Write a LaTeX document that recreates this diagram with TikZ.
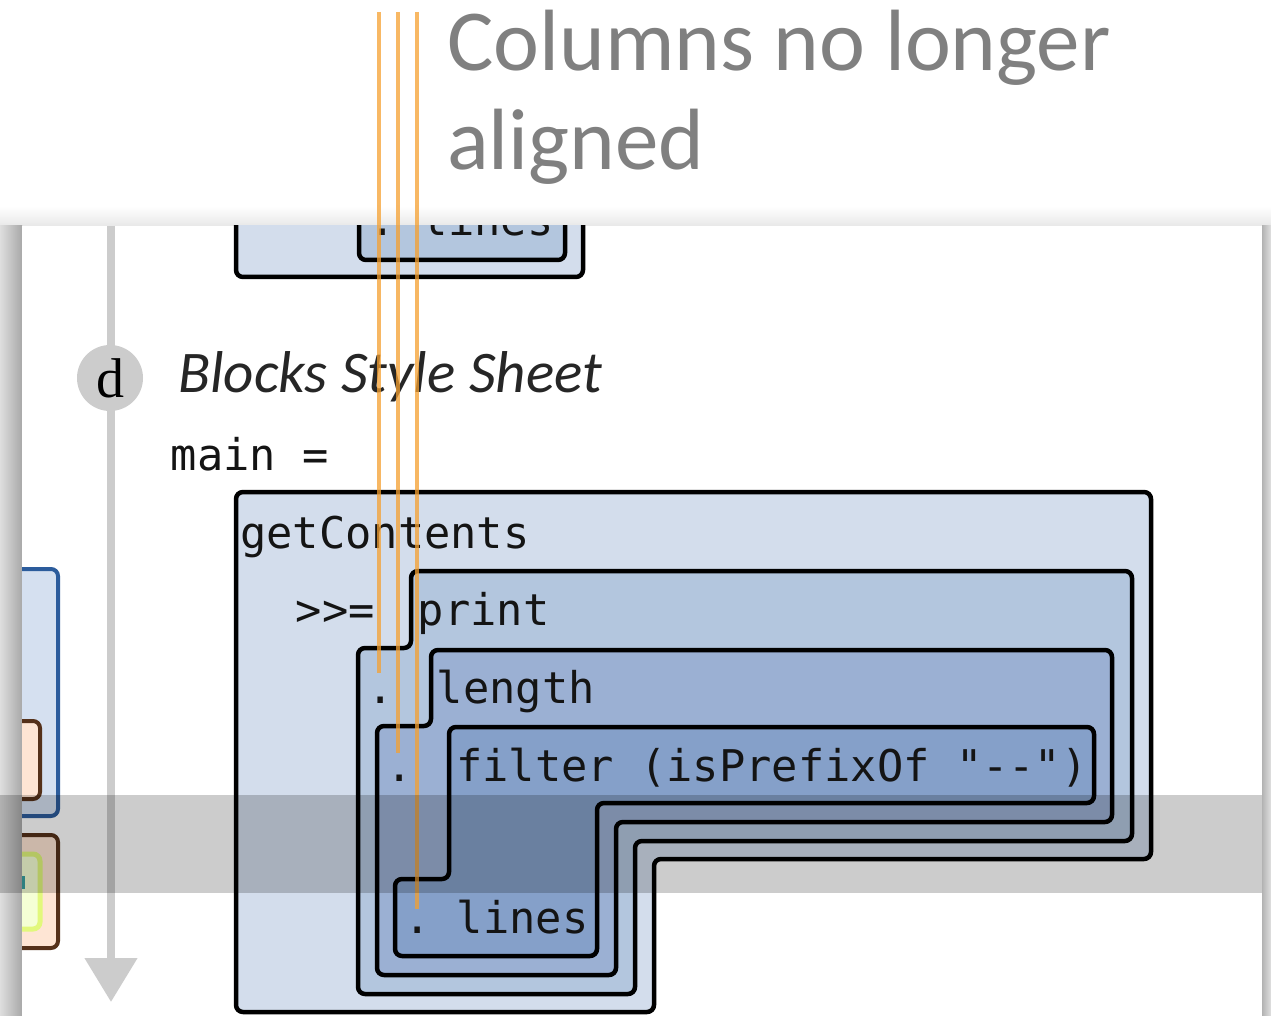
\documentclass[tikz,border=0pt]{standalone}
\usepackage{fontspec}
\usetikzlibrary{arrows.meta}
\newfontfamily\titlefont{Carlito}
\newfontfamily\codefont{DejaVu Sans Mono}
\newfontfamily\letterfont{Liberation Serif}

\definecolor{blkA}{HTML}{D3DDEC}
\definecolor{blkB}{HTML}{B3C6DE}
\definecolor{blkC}{HTML}{9BB0D3}
\definecolor{blkD}{HTML}{85A0C9}
\definecolor{guide}{HTML}{F5A030}
\definecolor{timeline}{HTML}{CCCCCC}
\definecolor{titlegray}{HTML}{808080}
\definecolor{outerblue}{HTML}{D5E0F0}
\definecolor{outerblueline}{HTML}{2C5C9C}
\definecolor{peach}{HTML}{FEE5D4}
\definecolor{brownline}{HTML}{55311A}
\definecolor{limefill}{HTML}{F5FFD5}
\definecolor{limeline}{HTML}{E2F87C}
\definecolor{tealmark}{HTML}{3AA0A0}

\tikzset{
  block/.style={draw=black, line width=4.5pt, rounded corners=7pt, line join=round},
  sidebox/.style={line width=4pt, rounded corners=7pt},
  code/.style={font=\codefont\fontsize{43.7}{50}\selectfont\frenchspacing, text=black!92, inner sep=0pt, anchor=base west},
  guideline/.style={draw=guide, line width=4.5pt, opacity=0.75},
  titletext/.style={font=\titlefont\fontsize{87}{96}\selectfont, text=titlegray, inner sep=0pt, anchor=base west},
}

\begin{document}
\begin{tikzpicture}[x=1pt,y=-1pt]
\useasboundingbox (0,0) rectangle (1271,1016);

% page shadows around the panel
\shade[top color=white, bottom color=black!9] (0,206) rectangle (1271,226);
\shade[left color=black!13, right color=black!34] (0,226) rectangle (22,1016);
\shade[left color=black!30, right color=black!12] (1262,226) rectangle (1271,1016);
\fill[white] (22,226) rectangle (1262,1016);

\begin{scope}
  \clip (22,226) rectangle (1262,1016);
  % neighbouring boxes cut by the left edge
  \filldraw[sidebox, fill=outerblue, draw=outerblueline] (-60,569) rectangle (58,816);
  \filldraw[sidebox, fill=peach, draw=brownline] (-60,721) rectangle (40,799);
  \filldraw[sidebox, fill=peach, draw=brownline] (-60,835) rectangle (58,948);
  \filldraw[sidebox, line width=5pt, fill=limefill, draw=limeline] (-60,854) rectangle (40,929);
  \fill[tealmark] (22,876) rectangle (25,889);
  % previous block, scrolled out at the top
  \draw[block, fill=blkA] (236,150) rectangle (583,277);
  \draw[block, fill=blkB] (359,150) rectangle (565,260);
  \node[code] (toplines) at (369,236) {. lines};
\end{scope}

% timeline with step marker
\coordinate (tltop) at (111,226);
\coordinate (tltip) at (111,1002);
\draw[line width=8pt, draw=timeline, -{Triangle[width=51pt,length=44pt]}] (tltop) -- (tltip);
\node[circle, fill=timeline, minimum size=66pt, inner sep=0pt,
      font=\letterfont\fontsize{56}{60}\selectfont] (stepd) at (110,378) {d};

\node[anchor=base west, inner sep=0pt, font=\titlefont\itshape\fontsize{59}{64}\selectfont,
      text=black!85] (heading) at (178,392) {Blocks Style Sheet};

\node[code] (mainlbl) at (170.5,470) {main =};

% nested expression blocks
\draw[block, fill=blkA] (236,492) -- (1151,492) -- (1151,859) -- (654,859) -- (654,1012)
      -- (236,1012) -- cycle;
\draw[block, fill=blkB] (411,571) -- (1132,571) -- (1132,841) -- (635,841) -- (635,994)
      -- (358,994) -- (358,648) -- (411,648) -- cycle;
\draw[block, fill=blkC] (431,650) -- (1112,650) -- (1112,822) -- (616,822) -- (616,975)
      -- (377,975) -- (377,726) -- (431,726) -- cycle;
\draw[block, fill=blkD] (449,727) -- (1094,727) -- (1094,803) -- (597,803) -- (597,956)
      -- (395,956) -- (395,879) -- (449,879) -- cycle;

\node[code] (getc)   at (240,548)   {getContents};
\node[code] (bind)   at (295.5,625) {>>=};
\node[code] (prnt)   at (417.7,625) {print};
\node[code] (dotone) at (367,703)   {.};
\node[code] (lngth)  at (436.7,703) {length};
\node[code] (dottwo) at (386,781)   {.};
\node[code] (filt)   at (456,781)   {filter (isPrefixOf "-{}-")};
\node[code] (lns)    at (404,933)   {. lines};

% column guides
\coordinate (gatop) at (379,12);  \coordinate (gaend) at (379,673);
\coordinate (gbtop) at (398,12);  \coordinate (gbend) at (398,753);
\coordinate (gctop) at (417,12);  \coordinate (gcend) at (417,909);
\draw[guideline] (gatop) -- (gaend);
\draw[guideline] (gbtop) -- (gbend);
\draw[guideline] (gctop) -- (gcend);

% highlighted row band
\fill[black, opacity=0.2] (0,795) rectangle (1262,893);

\node[titletext] (titleone) at (447,71)  {Columns no longer};
\node[titletext] (titletwo) at (447,170) {aligned};
\end{tikzpicture}
\end{document}
